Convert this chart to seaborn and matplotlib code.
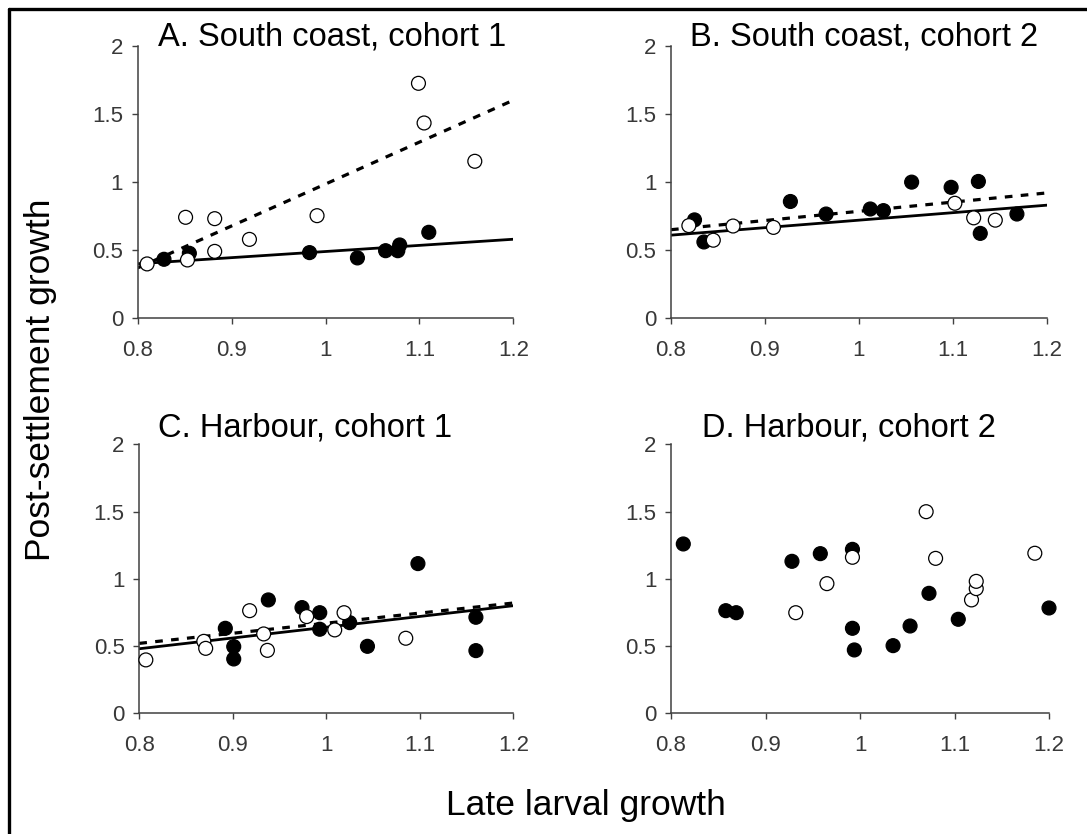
import matplotlib
matplotlib.use("Agg")
import matplotlib.pyplot as plt
from matplotlib.lines import Line2D
import numpy as np
import pandas as pd
import seaborn as sns

# ---- Panel A: South coast, cohort 1 ----
a_closed_x = [0.828, 0.855, 0.983, 1.034, 1.064, 1.077, 1.079, 1.110]
a_closed_y = [0.433, 0.477, 0.482, 0.443, 0.496, 0.496, 0.538, 0.631]
a_open_x = [0.810, 0.851, 0.853, 0.882, 0.882, 0.919, 0.991, 1.099, 1.105, 1.159]
a_open_y = [0.399, 0.741, 0.428, 0.731, 0.491, 0.579, 0.753, 1.724, 1.433, 1.152]

# ---- Panel B: South coast, cohort 2 ----
b_closed_x = [0.825, 0.835, 0.927, 0.965, 1.012, 1.026, 1.056, 1.098, 1.127, 1.129, 1.168]
b_closed_y = [0.722, 0.560, 0.857, 0.765, 0.802, 0.790, 0.999, 0.961, 1.004, 0.623, 0.765]
b_open_x = [0.819, 0.845, 0.866, 0.909, 1.102, 1.122, 1.145]
b_open_y = [0.680, 0.573, 0.677, 0.667, 0.844, 0.737, 0.720]

# ---- Panel C: Harbour, cohort 1 ----
c_closed_x = [0.892, 0.901, 0.901, 0.938, 0.974, 0.993, 0.993, 1.025, 1.044, 1.098, 1.160, 1.160]
c_closed_y = [0.632, 0.496, 0.404, 0.843, 0.786, 0.748, 0.625, 0.674, 0.498, 1.113, 0.714, 0.466]
c_open_x = [0.807, 0.869, 0.871, 0.918, 0.933, 0.937, 0.979, 1.009, 1.019, 1.085]
c_open_y = [0.397, 0.535, 0.483, 0.763, 0.590, 0.468, 0.719, 0.620, 0.748, 0.558]

# ---- Panel D: Harbour, cohort 2 ----
d_closed_x = [0.813, 0.858, 0.869, 0.928, 0.958, 0.992, 0.992, 0.994, 1.035, 1.053, 1.073, 1.104, 1.200]
d_closed_y = [1.259, 0.763, 0.748, 1.130, 1.187, 1.219, 0.632, 0.471, 0.503, 0.649, 0.892, 0.699, 0.783]
d_open_x = [0.932, 0.965, 0.992, 1.070, 1.080, 1.118, 1.123, 1.123, 1.185]
d_open_y = [0.748, 0.964, 1.160, 1.499, 1.152, 0.843, 0.927, 0.981, 1.190]

# Fitted trend lines: value at x = 0.8 and x = 1.2
fit_x = [0.8, 1.2]
a_solid_fit = [0.40, 0.58]
a_dashed_fit = [0.37, 1.60]
b_solid_fit = [0.61, 0.83]
b_dashed_fit = [0.65, 0.92]
c_solid_fit = [0.48, 0.80]
c_dashed_fit = [0.52, 0.82]

titles = ["A. South coast, cohort 1", "B. South coast, cohort 2",
          "C. Harbour, cohort 1", "D. Harbour, cohort 2"]
x_ticks = [0.8, 0.9, 1.0, 1.1, 1.2]
x_tick_labels = ["0.8", "0.9", "1", "1.1", "1.2"]
y_ticks = [0, 0.5, 1.0, 1.5, 2.0]
y_tick_labels = ["0", "0.5", "1", "1.5", "2"]

panels = [
    (a_closed_x, a_closed_y, a_open_x, a_open_y, a_solid_fit, a_dashed_fit),
    (b_closed_x, b_closed_y, b_open_x, b_open_y, b_solid_fit, b_dashed_fit),
    (c_closed_x, c_closed_y, c_open_x, c_open_y, c_solid_fit, c_dashed_fit),
    (d_closed_x, d_closed_y, d_open_x, d_open_y, None, None),
]

sns.set_style("ticks")
plt.rcParams["font.family"] = ["Liberation Sans", "DejaVu Sans"]

W, H = 1087, 834
fig = plt.figure(figsize=(W / 100, H / 100), dpi=100)


def px_rect(left, right, top, bottom):
    return [left / W, 1 - bottom / H, (right - left) / W, (bottom - top) / H]


rects = [
    px_rect(137.7, 513.3, 45.7, 318.3),
    px_rect(671.0, 1047.0, 45.7, 318.3),
    px_rect(139.3, 513.3, 444.3, 713.3),
    px_rect(671.0, 1049.0, 444.3, 713.3),
]
title_pos = [(0.054, 1.0), (0.050, 1.0), (0.051, 1.028), (0.081, 1.028)]

for i, (cx, cy, ox, oy, solid, dashed) in enumerate(panels):
    ax = fig.add_axes(rects[i])
    ax.set_xlim(0.8, 1.2)
    ax.set_ylim(0, 2)

    if solid is not None:
        sns.lineplot(x=fit_x, y=solid, ax=ax, color="black", lw=2.0, zorder=2)
        sns.lineplot(x=fit_x, y=dashed, ax=ax, color="black", lw=2.3,
                     linestyle=(0, (2.4, 2.6)), zorder=2)

    pts = pd.DataFrame({
        "x": list(cx) + list(ox),
        "y": list(cy) + list(oy),
        "group": ["closed"] * len(cx) + ["open"] * len(ox),
    })
    sns.scatterplot(data=pts, x="x", y="y", hue="group",
                    palette={"closed": "black", "open": "white"},
                    edgecolor="black", linewidth=0.9, s=100, ax=ax,
                    legend=False, zorder=3, clip_on=False)

    ax.set_xticks(x_ticks)
    ax.set_xticklabels(x_tick_labels)
    ax.set_yticks(y_ticks)
    ax.set_yticklabels(y_tick_labels)
    ax.set_xlabel("")
    ax.set_ylabel("")
    ax.tick_params(direction="out", length=4.5, width=1.0, color="#404040",
                   labelsize=16, labelcolor="#383838")
    ax.tick_params(axis="x", pad=11)
    ax.tick_params(axis="y", pad=6)
    for side in ("top", "right"):
        ax.spines[side].set_visible(False)
    for side in ("left", "bottom"):
        ax.spines[side].set_color("#404040")
        ax.spines[side].set_linewidth(1.1)
    ax.set_facecolor("none")

    tx, ty = title_pos[i]
    ax.text(tx, ty, titles[i], transform=ax.transAxes, ha="left",
            va="baseline", fontsize=23.5, color="black")

fig.text(586 / W, 1 - 815 / H, "Late larval growth", ha="center",
         va="baseline", fontsize=25.5, color="black")
fig.text(41 / W, 1 - 380 / H, "Post-settlement growth", ha="center",
         va="center", rotation=90, fontsize=25.5, color="black")

# Frame along the top and left edges
fig.add_artist(Line2D([8.5 / W, 8.5 / W], [0, 1 - 8.5 / H],
                      transform=fig.transFigure, color="black", lw=2.4))
fig.add_artist(Line2D([8.5 / W, 1], [1 - 8.5 / H, 1 - 8.5 / H],
                      transform=fig.transFigure, color="black", lw=2.4))

fig.savefig("out.png", dpi=100)
